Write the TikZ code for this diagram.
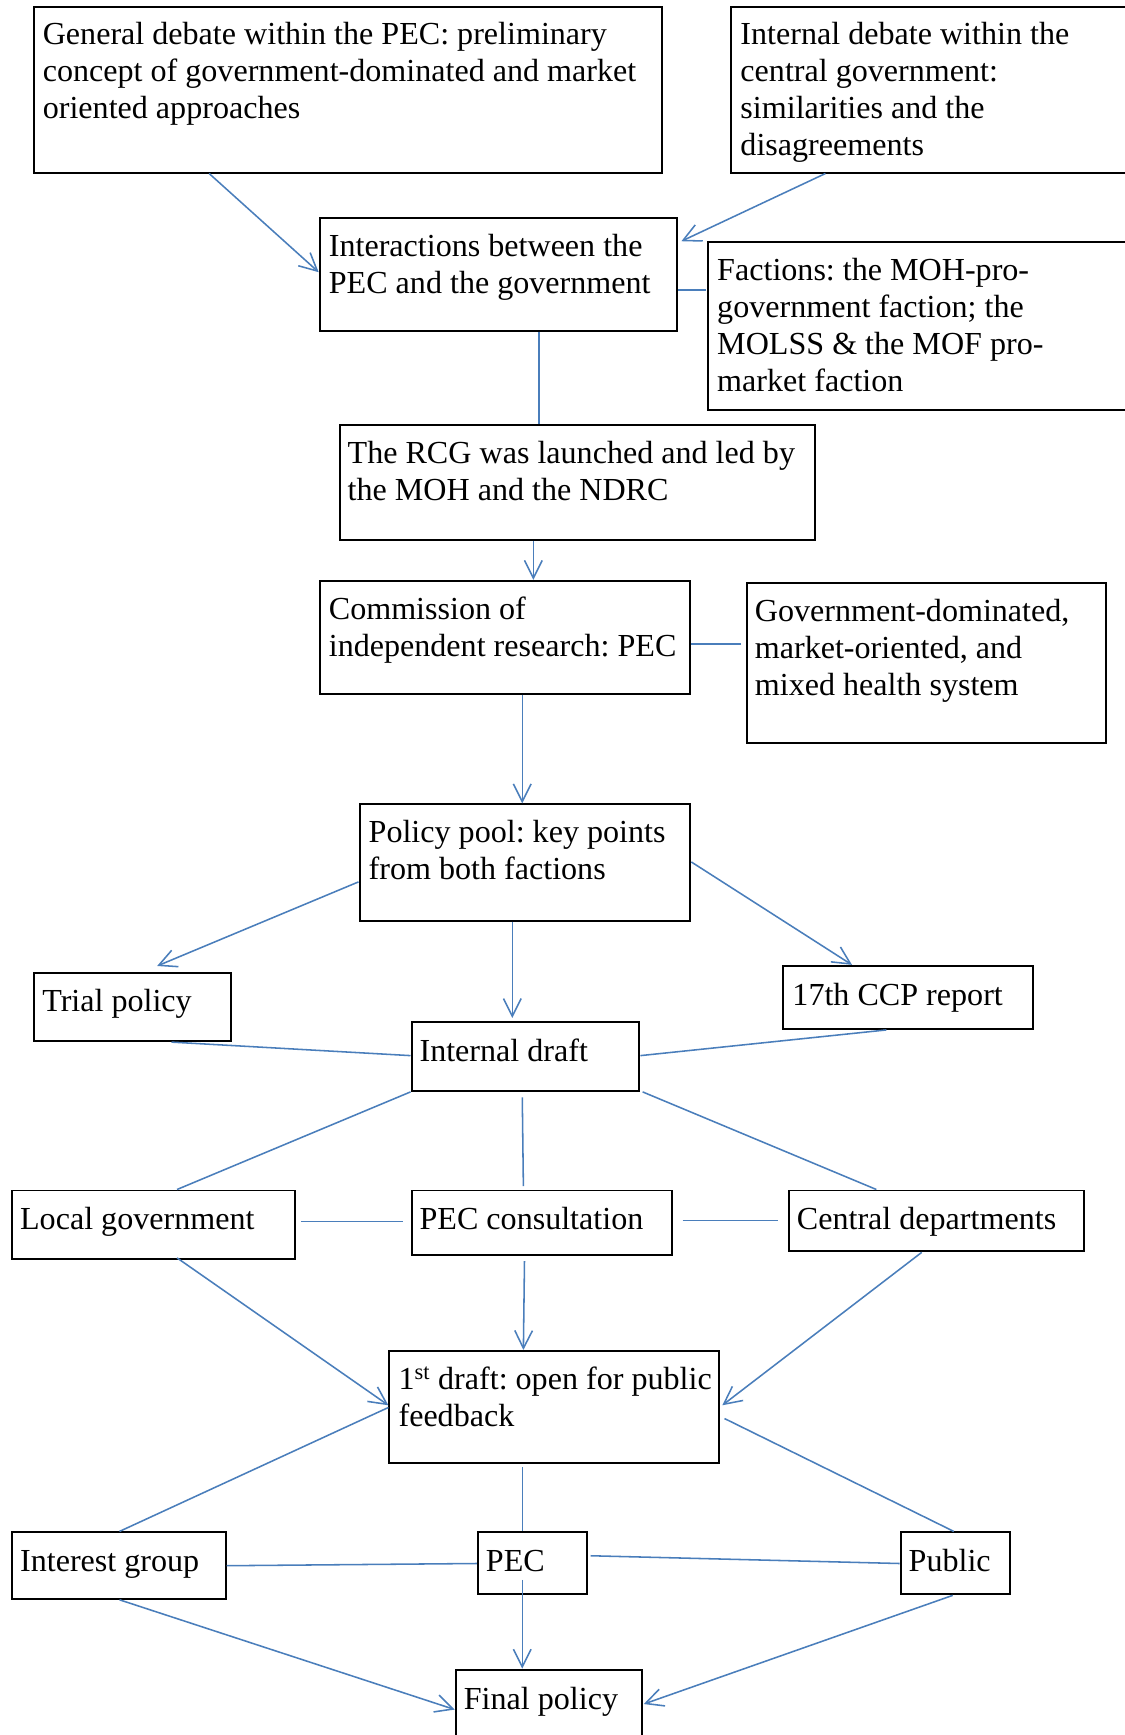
\documentclass[tikz,border=0pt]{standalone}
\usepackage{fontspec}
\setmainfont{Liberation Serif}
\usetikzlibrary{calc,arrows.meta}
\definecolor{conncol}{HTML}{4A7EBB}
\newcommand{\tnrfont}{\fontsize{29}{33.4}\selectfont\frenchspacing}
\begin{document}
\begin{tikzpicture}[x=1pt,y=-1pt,
  box/.style={draw=black, line width=1.8pt, anchor=north west, inner sep=0pt},
  txt/.style={anchor=north west, inner sep=0pt, align=left, font=\tnrfont},
  conn/.style={draw=conncol, line width=1.4pt},
  arr/.style={conn, -{Straight Barb[length=16pt,width=16pt,line width=1.4pt]}}]
\useasboundingbox (0,0) rectangle (1016,1568);
% boxes
\node[box, minimum width=567pt, minimum height=150pt] (gen) at (30,5) {};
\node[box, minimum width=420pt, minimum height=150pt] (int) at (660,5) {};
\node[box, minimum width=323pt, minimum height=102pt] (inter) at (288,196) {};
\node[box, minimum width=420pt, minimum height=152pt] (fac) at (639,218) {};
\node[box, minimum width=430pt, minimum height=104pt] (rcg) at (306,383) {};
\node[box, minimum width=335pt, minimum height=102pt] (com) at (288,524) {};
\node[box, minimum width=325pt, minimum height=145pt] (gdm) at (674,526) {};
\node[box, minimum width=299pt, minimum height=105pt] (pool) at (324,726) {};
\node[box, minimum width=178pt, minimum height=62pt] (trial) at (30,878) {};
\node[box, minimum width=226pt, minimum height=57pt] (ccp) at (707,872) {};
\node[box, minimum width=206pt, minimum height=62pt] (idraft) at (371,923) {};
\node[box, minimum width=256pt, minimum height=62pt] (local) at (10,1075) {};
\node[box, minimum width=235pt, minimum height=58pt] (pecc) at (371,1075) {};
\node[box, minimum width=267pt, minimum height=55pt] (cent) at (712,1075) {};
\node[box, minimum width=298pt, minimum height=101pt] (first) at (351,1220) {};
\node[box, minimum width=193pt, minimum height=60pt] (ig) at (10,1384) {};
\node[box, minimum width=99pt, minimum height=56pt] (pec) at (431,1384) {};
\node[box, minimum width=99pt, minimum height=56pt] (pub) at (813,1384) {};
\node[box, minimum width=168pt, minimum height=90pt] (final) at (411,1508) {};
% texts
\node[txt] (gen-t) at ($(gen.north west)+(8.5,12)$) {\strut General debate within the PEC: preliminary\\\strut concept of government-dominated and market\\\strut oriented approaches};
\node[txt] (int-t) at ($(int.north west)+(9,12)$) {\strut Internal debate within the\\\strut central government:\\\strut similarities and the\\\strut disagreements};
\node[txt] (inter-t) at ($(inter.north west)+(9,12)$) {\strut Interactions between the\\\strut PEC and the government};
\node[txt] (fac-t) at ($(fac.north west)+(9,12)$) {\strut Factions: the MOH-pro-\\\strut government faction; the\\\strut MOLSS \& the MOF pro-\\\strut market faction};
\node[txt] (rcg-t) at ($(rcg.north west)+(8,12)$) {\strut The RCG was launched and led by\\\strut the MOH and the NDRC};
\node[txt] (com-t) at ($(com.north west)+(9,12)$) {\strut Commission of\\\strut independent research: PEC};
\node[txt] (gdm-t) at ($(gdm.north west)+(8,12)$) {\strut Government-dominated,\\\strut market-oriented, and\\\strut mixed health system};
\node[txt] (pool-t) at ($(pool.north west)+(9,12)$) {\strut Policy pool: key points\\\strut from both factions};
\node[txt] (trial-t) at ($(trial.north west)+(8,13)$) {\strut Trial policy};
\node[txt] (ccp-t) at ($(ccp.north west)+(9,13)$) {\strut 17th CCP report};
\node[txt] (idraft-t) at ($(idraft.north west)+(8,13)$) {\strut Internal draft};
\node[txt] (local-t) at ($(local.north west)+(8,13)$) {\strut Local government};
\node[txt] (pecc-t) at ($(pecc.north west)+(8,13)$) {\strut PEC consultation};
\node[txt] (cent-t) at ($(cent.north west)+(8,13)$) {\strut Central departments};
\node[txt] (first-t) at ($(first.north west)+(9,12)$) {\strut 1\textsuperscript{st} draft: open for public\\\strut feedback};
\node[txt] (ig-t) at ($(ig.north west)+(8,13)$) {\strut Interest group};
\node[txt] (pec-t) at ($(pec.north west)+(8,13)$) {\strut PEC};
\node[txt] (pub-t) at ($(pub.north west)+(8,13)$) {\strut Public};
\node[txt] (final-t) at ($(final.north west)+(8,13)$) {\strut Final policy};
% connectors
\draw[arr] ($(gen.south west)+(159,0)$) -- ($(inter.north west)+(0,50)$);
\draw[arr] ($(int.south west)+(86,0)$) -- ($(inter.north east)+(3,22)$);
\draw[conn] ($(inter.north east)+(0,66)$) -- ($(fac.north west)+(-1,44)$);
\draw[conn] ($(inter.south west)+(199,0)$) -- ($(rcg.north west)+(181,0)$);
\draw[arr] ($(rcg.south west)+(176,0)$) -- ($(com.north west)+(194,0)$);
\draw[conn] ($(com.north east)+(0,58)$) -- ($(gdm.north west)+(-4,56)$);
\draw[arr] ($(com.south west)+(184,0)$) -- ($(pool.north west)+(148,0)$);
\draw[arr] ($(pool.north west)+(0,71)$) -- ($(trial.north west)+(112,-5)$);
\draw[arr] ($(pool.north east)+(0,53)$) -- ($(ccp.north west)+(63,0)$);
\draw[arr] ($(pool.south west)+(139,0)$) -- ($(idraft.north west)+(92,-3)$);
\draw[conn] ($(trial.south west)+(125,0)$) -- ($(idraft.north west)+(0,31)$);
\draw[conn] ($(idraft.north east)+(0,31)$) -- ($(ccp.south west)+(94,0)$);
\draw[conn] (idraft.south west) -- ($(local.north west)+(150,0)$);
\draw[conn] ($(idraft.south west)+(101,5)$) -- ($(pecc.north west)+(102,-3)$);
\draw[conn] ($(idraft.south east)+(2,0)$) -- ($(cent.north west)+(80,0)$);
\draw[conn] ($(local.north east)+(4,29)$) -- ($(pecc.north west)+(-7,29)$);
\draw[conn] ($(pecc.north east)+(9,28)$) -- ($(cent.north west)+(-9,28)$);
\draw[arr] ($(local.south west)+(150,-2)$) -- ($(first.north west)+(0,50)$);
\draw[arr] ($(pecc.south west)+(103,5)$) -- ($(first.north west)+(122,0)$);
\draw[arr] ($(cent.south west)+(121,0)$) -- ($(first.north east)+(2,50)$);
\draw[conn] ($(first.north west)+(0,52)$) -- ($(ig.north west)+(98,0)$);
\draw[conn] ($(first.south west)+(121,3)$) -- ($(pec.north west)+(41,0)$);
\draw[conn] ($(first.north east)+(4,62)$) -- ($(pub.north west)+(49,0)$);
\draw[conn] ($(ig.north east)+(0,31)$) -- ($(pec.north west)+(0,29)$);
\draw[conn] ($(pec.north east)+(2,22)$) -- ($(pub.north west)+(0,29)$);
\draw[arr] ($(ig.south west)+(98,0)$) -- ($(final.north west)+(0,37)$);
\draw[arr] ($(pec.south west)+(41,-14)$) -- ($(final.north west)+(61,0)$);
\draw[arr] ($(pub.south west)+(48,0)$) -- ($(final.north east)+(1,32)$);
\end{tikzpicture}
\end{document}
